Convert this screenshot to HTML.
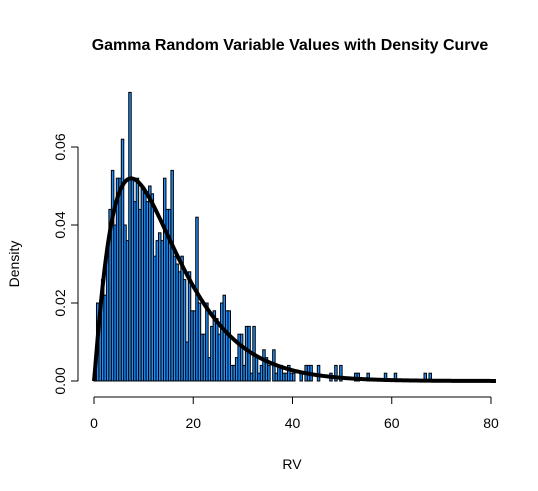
<!DOCTYPE html>
<html><head><meta charset="utf-8"><style>
body{margin:0;background:#fff;}
svg{display:block;font-family:"Liberation Sans",Arial,sans-serif;}
</style></head><body>
<svg id="chart" width="538" height="491">
<text x="290" y="50" text-anchor="middle" font-size="16" font-weight="bold">Gamma Random Variable Values with Density Curve</text>
<text x="292" y="469" text-anchor="middle" font-size="14">RV</text>
<text transform="translate(19,264) rotate(-90)" text-anchor="middle" font-size="14">Density</text>
<g id="bars"></g>
<g id="axes"></g>
<path id="curve" fill="none" stroke="#000" stroke-width="4"></path>
</svg>
<script>
const binWidth = 0.5;
const densities = [0.004,0.020,0.016,0.026,0.022,0.032,0.044,0.054,0.040,0.052,0.052,0.062,0.040,0.036,0.074,0.052,0.046,0.052,0.044,0.050,0.048,0.046,0.050,0.048,0.032,0.036,0.038,0.036,0.052,0.044,0.044,0.054,0.032,0.030,0.028,0.032,0.026,0.010,0.028,0.018,0.018,0.042,0.020,0.012,0.012,0.020,0.006,0.014,0.018,0.016,0.012,0.020,0.022,0.018,0.018,0.004,0.004,0.006,0.012,0.012,0.004,0.014,0.014,0.002,0.014,0.006,0.002,0.004,0.008,0.006,0.004,0,0.008,0.002,0.004,0.004,0.002,0.002,0.004,0.002,0.002,0,0,0.002,0,0.004,0.004,0.004,0,0,0.004,0,0,0,0,0.002,0,0.004,0,0.004,0,0,0,0,0,0.002,0.002,0,0,0,0.002,0,0,0,0,0,0,0.002,0,0,0,0.002,0,0,0,0,0,0,0,0,0,0,0,0.002,0,0.002];
const xTicks = [0,20,40,60,80];
const yTicks = [0,0.02,0.04,0.06];
const yTickLabels = ["0.00","0.02","0.04","0.06"];
const gammaShape = 2.1, gammaScale = 6.8, gammaFn = 1.0465;

const X = v => 94 + v * (491 - 94) / 80;
const Y = v => 381 - v * (381 - 147) / 0.06;
const NS = "http://www.w3.org/2000/svg";
const bars = document.getElementById('bars');
densities.forEach((d, i) => {
  if (d <= 0) return;
  const r = document.createElementNS(NS, 'rect');
  r.setAttribute('x', X(i * binWidth));
  r.setAttribute('y', Y(d));
  r.setAttribute('width', X((i + 1) * binWidth) - X(i * binWidth));
  r.setAttribute('height', Y(0) - Y(d));
  r.setAttribute('fill', '#1E90FF');
  r.setAttribute('stroke', '#000');
  r.setAttribute('stroke-width', '1');
  
  
  bars.appendChild(r);
});
const axes = document.getElementById('axes');
function line(x1, y1, x2, y2) {
  const l = document.createElementNS(NS, 'line');
  l.setAttribute('x1', x1); l.setAttribute('y1', y1);
  l.setAttribute('x2', x2); l.setAttribute('y2', y2);
  l.setAttribute('stroke', '#000');
  axes.appendChild(l);
  return l;
}
const xa = line(X(0), 397, X(80), 397);


xTicks.forEach(t => {
  const tk = line(X(t), 397, X(t), 404);
  
  
  const tx = document.createElementNS(NS, 'text');
  tx.setAttribute('x', X(t)); tx.setAttribute('y', 428);
  tx.setAttribute('text-anchor', 'middle'); tx.setAttribute('font-size', '14');
  tx.textContent = t;
  
  
  axes.appendChild(tx);
});
const ya = line(78, Y(0), 78, Y(0.06));


yTicks.forEach((t, i) => {
  const tk = line(71, Y(t), 78, Y(t));
  
  
  const tx = document.createElementNS(NS, 'text');
  tx.setAttribute('transform', `translate(65,${Y(t)}) rotate(-90)`);
  tx.setAttribute('text-anchor', 'middle'); tx.setAttribute('font-size', '14');
  tx.textContent = yTickLabels[i];
  
  
  axes.appendChild(tx);
});
let d = '';
for (let i = 0; i <= 400; i++) {
  const x = 0.0001 + i * 81 / 400;
  const f = Math.pow(x, gammaShape - 1) * Math.exp(-x / gammaScale) / (gammaFn * Math.pow(gammaScale, gammaShape));
  d += (i ? 'L' : 'M') + X(x).toFixed(2) + ',' + Y(f).toFixed(2);
}
document.getElementById('curve').setAttribute('d', d);
</script>
</body></html>
